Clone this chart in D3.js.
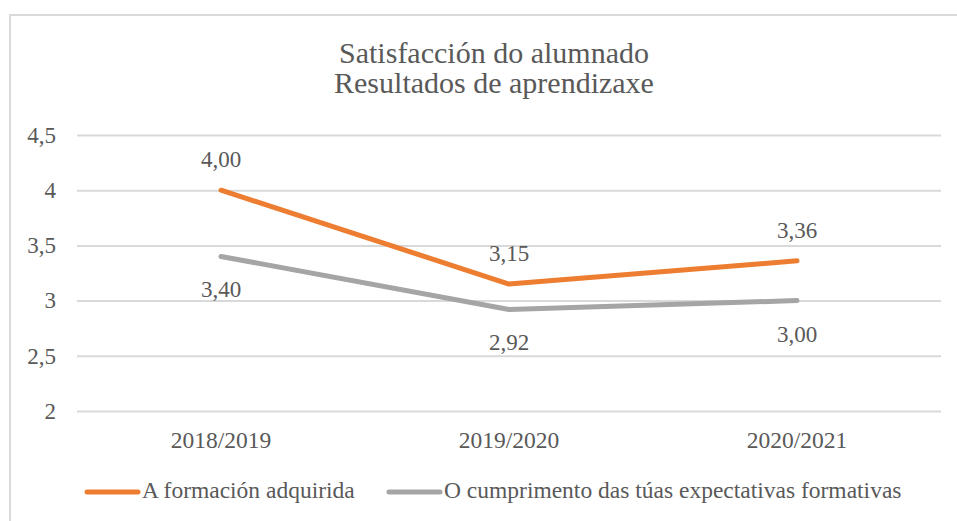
<!DOCTYPE html>
<html><head><meta charset="utf-8">
<script src="https://cdn.jsdelivr.net/npm/d3@7"></script>
</head><body style="margin:0">
<svg id="c" width="957" height="521" font-family="Liberation Serif"></svg>
<script>
const categories = ["2018/2019","2019/2020","2020/2021"];
const seriesNames = ["A formación adquirida","O cumprimento das túas expectativas formativas"];
const formacion = [4.00, 3.15, 3.36];
const expectativas = [3.40, 2.92, 3.00];
const yTicks = [2, 2.5, 3, 3.5, 4, 4.5];
const titleLines = ["Satisfacción do alumnado","Resultados de aprendizaxe"];
const colors = ["#ED7D31","#A5A5A5"];

const FONT = "Liberation Serif";
const TXT = "#595959";
const svg = d3.select("#c");
const fmtTick = d => String(d).replace(".", ",");
const fmtVal = d => d.toFixed(2).replace(".", ",");

svg.append("path").attr("d","M10,521 V15 H957").attr("fill","none").attr("stroke","#d9d9d9").attr("stroke-width",2);

const x = d3.scaleBand().domain(categories).range([77, 941]);
const y = d3.scaleLinear().domain([2, 4.5]).range([411, 135]);

const yAxis = svg.append("g").attr("transform","translate(77,0)")
  .call(d3.axisLeft(y).tickValues(yTicks).tickFormat(fmtTick).tickSize(-864).tickPadding(21));
yAxis.attr("font-family",FONT).attr("font-size",23);
yAxis.select(".domain").remove();
yAxis.selectAll("line").attr("stroke","#d9d9d9").attr("stroke-width",2);
yAxis.selectAll("text").attr("fill",TXT).attr("font-family",FONT).attr("font-size",23);

const xAxis = svg.append("g").attr("transform","translate(0,411)")
  .call(d3.axisBottom(x).tickSize(0).tickPadding(20));
xAxis.attr("font-family",FONT).attr("font-size",23.5);
xAxis.select(".domain").remove();
xAxis.selectAll("text").attr("fill",TXT).attr("font-family",FONT).attr("font-size",23.5);

svg.selectAll(".title").data(titleLines).enter().append("text")
  .attr("x", 494).attr("y",(d,i)=>63+i*30).attr("text-anchor","middle")
  .attr("font-family",FONT).attr("fill",TXT).attr("font-size",30).text(d=>d);

const series = [formacion, expectativas];
const cx = i => x(categories[i]) + x.bandwidth()/2;
const line = d3.line().x((d,i)=>cx(i)).y(d=>y(d));
series.forEach((s,k)=>{
  svg.append("path").datum(s).attr("d",line).attr("fill","none")
    .attr("stroke",colors[k]).attr("stroke-width",5).attr("stroke-linecap","round").attr("stroke-linejoin","round");
});
series.forEach((s,k)=>{
  svg.selectAll(".lbl"+k).data(s).enter().append("text")
    .attr("x",(d,i)=>cx(i))
    .attr("y",d=>y(d)+(k===0?-23:41))
    .attr("text-anchor","middle").attr("font-family",FONT).attr("fill",TXT).attr("font-size",23).text(fmtVal);
});

const legX = [87, 389];
seriesNames.forEach((n,k)=>{
  svg.append("line").attr("x1",legX[k]).attr("x2",legX[k]+51).attr("y1",492).attr("y2",492)
    .attr("stroke",colors[k]).attr("stroke-width",5).attr("stroke-linecap","round");
  svg.append("text").attr("x",legX[k]+55).attr("y",498).attr("font-family",FONT).attr("fill",TXT).attr("font-size",23.5).text(n);
});
svg.selectAll("text").each(function(){ this.getComputedTextLength(); });
</script></body></html>
